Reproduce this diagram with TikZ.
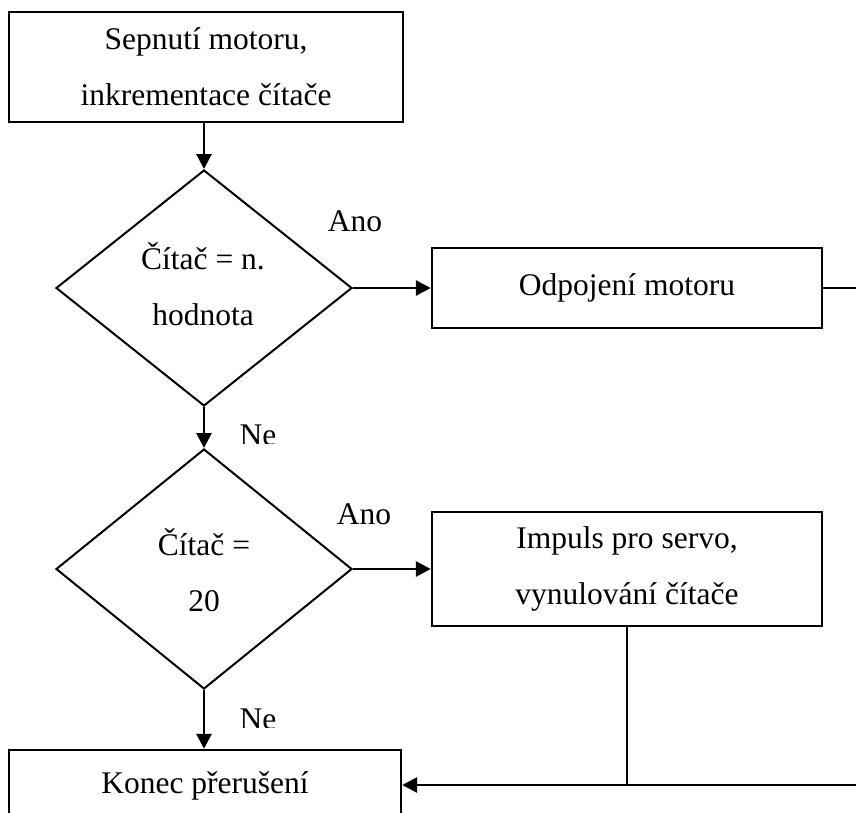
\documentclass[tikz,border=0pt]{standalone}
\usepackage{fontspec}
\setmainfont{Liberation Serif}
\usetikzlibrary{shapes.geometric,arrows.meta}
\begin{document}
\begin{tikzpicture}[x=1pt,y=-1pt,
  txt/.style={font=\fontsize{31.5}{56}\selectfont, align=center, inner sep=0pt},
  box/.style={draw, line width=2.4pt, rectangle, inner sep=0pt, txt},
  dia/.style={draw, line width=2pt, diamond, inner sep=0pt,
              minimum width=296pt, minimum height=236pt},
  arr/.style={line width=2.8pt, -{Triangle[length=15pt,width=15pt]}},
  ln/.style={line width=2.8pt},
  thin ln/.style={line width=1.8pt}]
\useasboundingbox (0,0) rectangle (856,812);
\clip (0,0) rectangle (856,812);

% process boxes
\node[box, minimum width=394pt, minimum height=110pt] (box1) at (206,67)
  {Sepnutí motoru,\\inkrementace čítače};
\node[box, minimum width=390pt, minimum height=80pt] (box2) at (627,288)
  {Odpojení motoru};
\node[box, minimum width=390pt, minimum height=114pt] (box3) at (627,569)
  {Impuls pro servo,\\vynulování čítače};
\node[box, minimum width=392pt, minimum height=72pt] (box4) at (205,786)
  {Konec přerušení};

% decisions
\node[dia] (d1) at (204,288) {};
\node[txt] (t1) at (203,284) {Čítač = n.\\hodnota};
\node[dia, minimum height=240pt] (d2) at (204,569) {};
\node[txt] (t2) at (204,570) {Čítač =\\20};

% branch labels
\node[txt] (ano1) at (355,221) {Ano};
\node[txt] (ano2) at (364,514) {Ano};
\begin{scope}
  \clip (220,400) rectangle (300,443);
  \node[txt, anchor=base] (ne1) at (258,445) {Ne};
\end{scope}
\begin{scope}
  \clip (220,690) rectangle (300,727);
  \node[txt, anchor=base] (ne2) at (258,729) {Ne};
\end{scope}

% free ends at the right margin
\coordinate (e1) at (856,288);
\coordinate (e2) at (856,785);
\coordinate (j) at (627,785);

% connectors
\draw[arr] (d1.north |- box1.south) -- (d1.north);
\draw[arr] (d1.east) -- (box2.west);
\draw[ln] (box2.east) -- (e1);
\draw[arr] (d1.south) -- (d2.north);
\draw[arr] (d2.east) -- (box3.west);
\draw[arr] (d2.south) -- (d2.south |- box4.north);
\draw[thin ln] (box3.south) -- (j);
\draw[arr] (e2) -- (box4.east |- e2);
\end{tikzpicture}
\end{document}
